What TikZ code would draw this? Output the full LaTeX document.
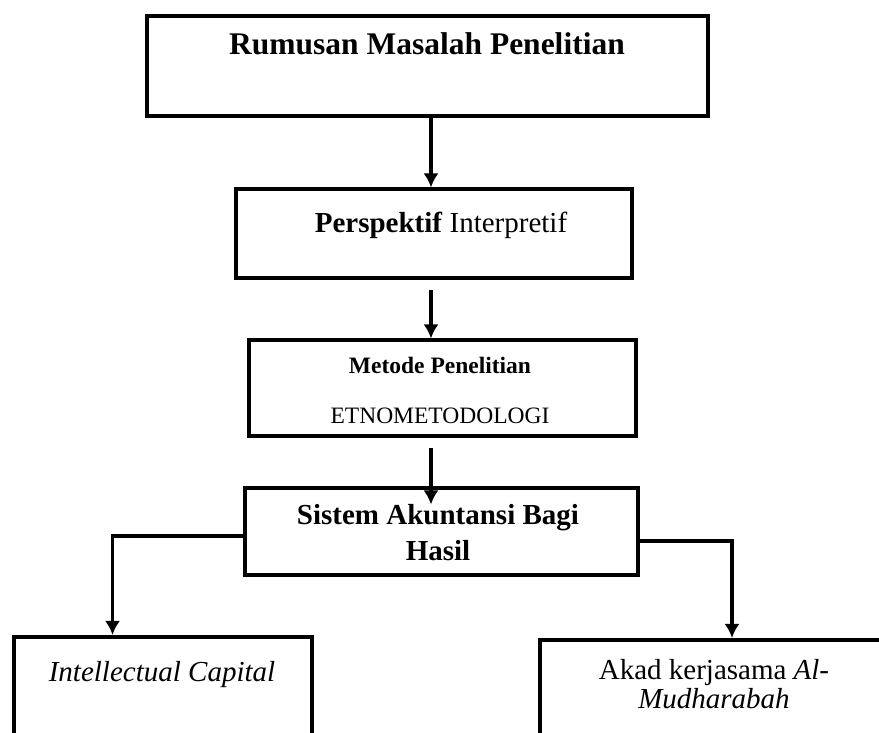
\documentclass[tikz,border=0pt]{standalone}
\usepackage{fontspec}
\setmainfont{Liberation Serif}
\usetikzlibrary{arrows.meta,calc}

\begin{document}
\begin{tikzpicture}[x=1pt, y=1pt, >={Latex[length=14pt,width=15pt]},
	box/.style={draw, rectangle, line width=4pt, inner sep=0pt},
	link/.style={->, line width=3.5pt},
	label/.style={inner sep=0pt, anchor=base, align=center}]

\useasboundingbox (0,0) rectangle (879,733);

\node (rumusan) at (427,666.5) [box, minimum width=561, minimum height=100] {};
\node (perspektif) at (433.5,499) [box, minimum width=396, minimum height=89] {};
\node (metode) at (442,344.5) [box, minimum width=387, minimum height=96] {};
\node (sistem) at (441,201) [box, minimum width=393, minimum height=87] {};
\node (intel) at (162.5,33) [box, minimum width=298, minimum height=126] {};
\node (akad) at (714,31.5) [box, minimum width=348, minimum height=123] {};

\node (trumusan) at (427,678) [label, font=\fontsize{31.5}{36}\selectfont\bfseries] {Rumusan Masalah Penelitian};
\node (tperspektif) at (441,500) [label, font=\fontsize{29}{34}\selectfont] {\textbf{Perspektif} Interpretif};
\node (tmetode) at (440,359) [label, font=\fontsize{23.5}{28}\selectfont\bfseries] {Metode Penelitian};
\node (tetno) at (440,309) [label, font=\fontsize{23.5}{28}\selectfont] {ETNOMETODOLOGI};
% multi-line: base is the last line
\node (tsistem) at (438,172) [label, font=\fontsize{29}{36}\selectfont\bfseries] {Sistem Akuntansi Bagi\\Hasil};
\node (tintel) at (162,51) [label, font=\fontsize{29}{34}\selectfont\itshape] {Intellectual Capital};
\node (takad) at (714,24) [label, font=\fontsize{29}{29}\selectfont] {Akad kerjasama \textit{Al-}\\\textit{Mudharabah}};

\coordinate (axis) at (431,0);

\draw[link] (rumusan.south -| axis) -- (perspektif.north -| axis);
\draw[link] ($(perspektif.south -| axis)+(0,-10)$) -- (metode.north -| axis);
\draw[link] ($(metode.south -| axis)+(0,-10)$) -- ($(sistem.north -| axis)+(0,-18)$);

\draw[link] ($(sistem.west)+(0,-4)$) -| ($(intel.north)+(-50,0)$);
\draw[link] ($(sistem.east)+(0,-9)$) -| ($(akad.north)+(18,0)$);

\end{tikzpicture}
\end{document}
